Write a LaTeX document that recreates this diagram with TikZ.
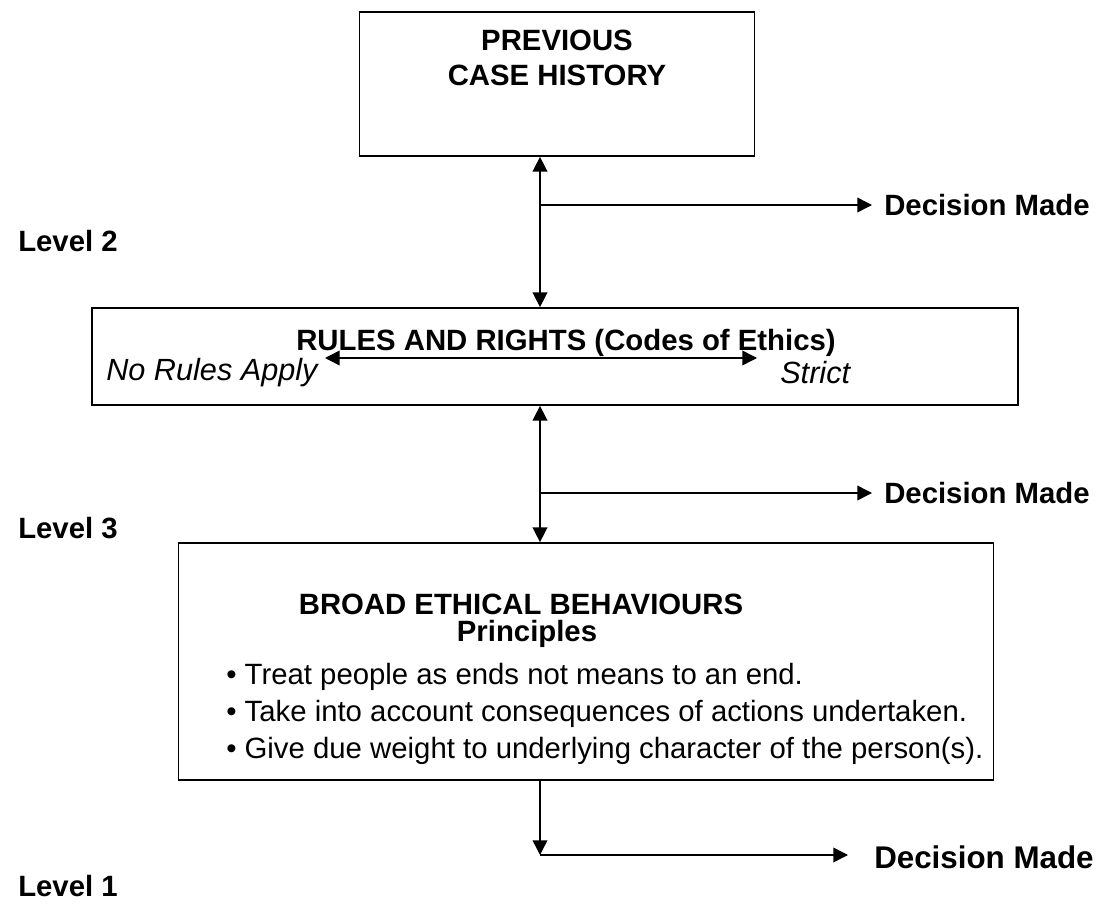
\documentclass[tikz,border=0pt]{standalone}
\usepackage{fontspec}
\setmainfont{Liberation Sans}
\usetikzlibrary{arrows.meta}
\begin{document}
\begin{tikzpicture}[x=0.75pt,y=-0.75pt,
  box/.style={draw, line width=1.3pt, inner sep=0pt},
  conn/.style={line width=1.1pt},
  tip/.tip={Triangle[length=11pt,width=11pt]},
  btxt/.style={font=\fontsize{22}{26}\selectfont\bfseries, inner sep=0pt},
  rtxt/.style={font=\fontsize{22}{26}\selectfont, inner sep=0pt},
  itxt/.style={font=\fontsize{23}{28}\selectfont\itshape, inner sep=0pt},
  lvl/.style={btxt, anchor=west},
  dm/.style={btxt, anchor=west, inner xsep=0pt, inner ysep=0pt}
]
\useasboundingbox (0,0) rectangle (1103,905);

% boxes (corners in pixels)
\node[box, minimum width=296.25pt, minimum height=108pt] (top) at (557,84) {};
\node[box, minimum width=694.5pt, minimum height=72.75pt] (mid) at (555,356.5) {};
\node[box, minimum width=611.25pt, minimum height=177.75pt] (bot) at (586,661.5) {};

% texts
\node[btxt] (prev) at (557,40) {PREVIOUS};
\node[btxt] (case) at (557,75) {CASE HISTORY};
\node[btxt] (midtitle) at (566,343) {RULES AND RIGHTS (Codes of Ethics)};
\node[itxt, anchor=west] (norules) at (106,373) {No Rules Apply};
\node[itxt, anchor=west] (strict) at (780,373) {Strict};
\node[btxt] (broad) at (521,604) {BROAD ETHICAL BEHAVIOURS};
\node[btxt] (princ) at (527,634) {Principles};
\node[rtxt, anchor=west] (b1) at (226,677) {\textbullet\ Treat people as ends not means to an end.};
\node[rtxt, anchor=west] (b2) at (226,714) {\textbullet\ Take into account consequences of actions undertaken.};
\node[rtxt, anchor=west] (b3) at (226,751) {\textbullet\ Give due weight to underlying character of the person(s).};

\node[lvl] (l2) at (18,241) {Level 2};
\node[lvl] (l3) at (18,528) {Level 3};
\node[lvl] (l1) at (18,886) {Level 1};

\node[dm] (dm1) at (884,205) {Decision Made};
\node[dm] (dm2) at (884,493) {Decision Made};
\node[dm, font=\fontsize{23.5}{28}\selectfont\bfseries] (dm3) at (874,857) {Decision Made};

% connector coordinates
\coordinate (ax) at (540,0);
\coordinate (j1) at (540,205);
\coordinate (j2) at (540,493);
\coordinate (j3) at (540,855);
\coordinate (t1) at (872,205);
\coordinate (t2) at (872,493);
\coordinate (t3) at (848,855);
\coordinate (nra) at (325,358);
\coordinate (sta) at (757,358);

% connectors
\draw[conn, tip-tip] (top.south -| ax) -- (mid.north -| ax);
\draw[conn, -tip] (j1) -- (t1);
\draw[conn, tip-tip] (mid.south -| ax) -- (bot.north -| ax);
\draw[conn, -tip] (j2) -- (t2);
\draw[conn, tip-tip] (nra) -- (sta);
\draw[conn, -tip] (bot.south -| ax) -- (j3);
\draw[conn, -tip] (j3) -- (t3);
\end{tikzpicture}
\end{document}
